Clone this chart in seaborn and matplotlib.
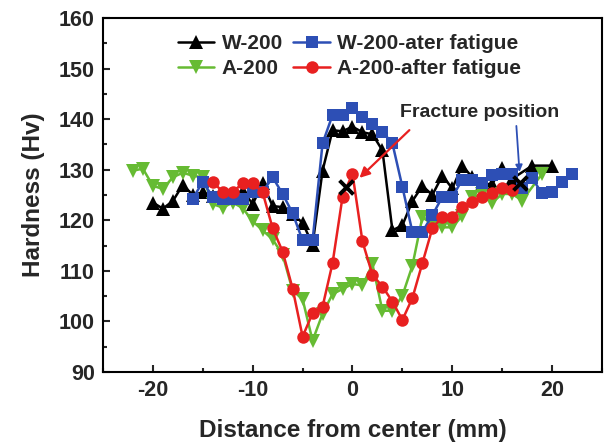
import matplotlib
matplotlib.use("Agg")
import matplotlib.pyplot as plt
from matplotlib.ticker import MultipleLocator
import pandas as pd
import seaborn as sns

sns.set_style("ticks")
plt.rcParams['font.family'] = ['Liberation Sans', 'DejaVu Sans']
plt.rcParams['font.weight'] = 'bold'
plt.rcParams['axes.unicode_minus'] = False

# W-200
x_w200 = [-20, -19, -18, -17, -16, -15, -14, -13, -12, -11, -10, -9, -8, -7, -6, -5, -4,
          -3, -2, -1, 0, 1, 2, 3, 4, 5, 6, 7, 8, 9, 10, 11, 12, 13, 14, 15, 16, 18, 20]
y_w200 = [123.5, 122.3, 123.8, 127.0, 125.0, 125.5, 124.8, 124.8, 125.2, 125.8, 123.2, 127.3, 122.8, 122.6, 121.2, 119.5, 115.2,
          129.8, 137.8, 137.6, 138.5, 137.4, 137.0, 133.8, 118.0, 119.0, 123.8, 126.8, 125.0, 128.8, 126.3, 130.8, 128.5, 127.1, 127.2, 130.4, 128.2, 130.8, 130.8]

# W-200-ater fatigue
x_w200f = [-16, -15, -14, -13, -12, -11, -10, -9, -8, -7, -6, -5, -4, -3, -2, -1, 0, 1, 2, 3, 4,
           5, 6, 7, 8, 9, 10, 11, 12, 13, 14, 15, 16, 17, 18, 19, 20, 21, 22]
y_w200f = [124.3, 127.6, 124.6, 124.3, 124.3, 124.3, 125.6, 125.6, 128.5, 125.2, 121.4, 116.0, 116.0, 135.2, 140.8, 140.8, 142.1, 140.5, 139.1, 137.5, 135.2,
           126.6, 117.7, 117.7, 121.0, 124.6, 124.6, 128.0, 128.0, 127.3, 128.9, 129.2, 129.2, 126.3, 128.3, 125.3, 125.6, 127.6, 129.2]

# A-200
x_a200 = [-22, -21, -20, -19, -18, -17, -16, -15, -14, -13, -12, -11, -10, -9, -8, -7, -6, -5, -4,
          -3, -2, -1, 0, 1, 2, 3, 4, 5, 6, 7, 8, 9, 10, 11, 12, 13, 14, 15, 16, 17, 19]
y_a200 = [129.8, 130.2, 126.8, 126.2, 128.5, 129.4, 128.8, 128.5, 123.2, 122.5, 123.5, 122.4, 119.8, 118.0, 116.2, 113.2, 106.1, 104.4, 96.2,
          101.5, 105.4, 106.4, 107.4, 107.1, 111.3, 102.1, 102.1, 105.1, 111.0, 120.6, 119.2, 118.6, 118.6, 120.9, 124.5, 125.2, 123.5, 125.2, 125.2, 123.9, 129.2]

# A-200-after fatigue
x_a200f = [-14, -13, -12, -11, -10, -9, -8, -7, -6, -5, -4, -3, -2, -1, 0, 1, 2, 3, 4, 5,
           6, 7, 8, 9, 10, 11, 12, 13, 14, 15, 16]
y_a200f = [127.6, 125.6, 125.6, 127.3, 127.3, 125.5, 118.4, 113.8, 106.5, 97.0, 101.6, 102.9, 111.5, 124.6, 129.2, 115.8, 109.2, 106.9, 103.9, 100.3,
           104.6, 111.5, 118.4, 120.7, 120.7, 122.7, 123.7, 124.5, 125.3, 126.3, 126.0]

# fracture positions (X marks)
x_frac = [-0.7, 16.8]
y_frac = [126.6, 127.3]

series = [
    ("W-200", x_w200, y_w200, "black", "^", 10.5),
    ("A-200", x_a200, y_a200, "#66bb33", "v", 10.5),
    ("W-200-ater fatigue", x_w200f, y_w200f, "#2d4fb5", "s", 8.5),
    ("A-200-after fatigue", x_a200f, y_a200f, "#e82020", "o", 9),
]

fig = plt.figure(figsize=(6.04, 4.46), dpi=100)
ax = fig.add_axes([0.1705, 0.166, 0.8262, 0.7937])

for name, xs, ys, col, mk, ms in series:
    df = pd.DataFrame({"x": xs, "y": ys})
    sns.lineplot(data=df, x="x", y="y", ax=ax, color=col, marker=mk, markersize=ms,
                 markeredgecolor=col, markeredgewidth=0, linewidth=1.8,
                 estimator=None, sort=False, label=name)

ax.scatter(x_frac, y_frac, marker="x", s=100, color="black", linewidths=2.8, zorder=5)

ax.annotate("", xy=(0.5, 128.0), xytext=(5.9, 138.2),
            arrowprops=dict(arrowstyle="-|>", color="#e82020", lw=1.6, mutation_scale=15))
ax.annotate("", xy=(16.75, 129.0), xytext=(16.4, 139.2),
            arrowprops=dict(arrowstyle="-|>", color="#2d4fb5", lw=1.3, mutation_scale=10))
ax.text(4.8, 141.4, "Fracture position", fontsize=14, fontweight="bold", ha="left", va="center")

ax.set_xlim(-25, 25)
ax.set_ylim(90, 160)
ax.xaxis.set_major_locator(MultipleLocator(10))
ax.xaxis.set_minor_locator(MultipleLocator(5))
ax.yaxis.set_major_locator(MultipleLocator(10))
ax.yaxis.set_minor_locator(MultipleLocator(5))
ax.tick_params(which="both", direction="in", width=1.5, labelsize=15.5, pad=6)
ax.tick_params(which="major", length=5)
ax.tick_params(which="minor", length=3)
for lab in ax.get_xticklabels() + ax.get_yticklabels():
    lab.set_fontweight("bold")
for sp in ax.spines.values():
    sp.set_linewidth(1.5)
    sp.set_color("black")

ax.set_xlabel("Distance from center (mm)", fontsize=17.5, fontweight="bold")
ax.set_ylabel("Hardness (Hv)", fontsize=17.5, fontweight="bold")
ax.xaxis.set_label_coords(0.5, -0.164)
ax.xaxis.label.set_va("center")
ax.yaxis.set_label_coords(-0.140, 0.5)
ax.yaxis.label.set_va("center")

ax.legend(loc="upper left", bbox_to_anchor=(0.125, 0.99), ncol=2, frameon=False,
          handlelength=1.75, handletextpad=0.35, columnspacing=0.5,
          labelspacing=0.3, borderaxespad=0.2, prop={"weight": "bold", "size": 15})

fig.savefig("out.png", dpi=100)
